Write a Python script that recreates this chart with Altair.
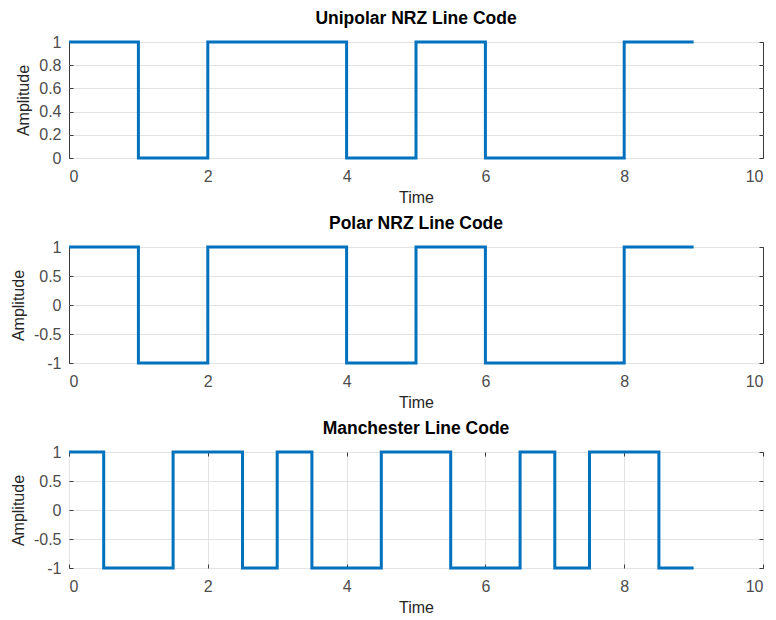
import altair as alt
import pandas as pd

t_nrz = [0, 1, 2, 3, 4, 5, 6, 7, 8, 9]
unipolar = [1, 0, 1, 1, 0, 1, 0, 0, 1, 1]
polar = [1, -1, 1, 1, -1, 1, -1, -1, 1, 1]
t_man = [0, 0.5, 1, 1.5, 2, 2.5, 3, 3.5, 4, 4.5, 5, 5.5, 6, 6.5, 7, 7.5, 8, 8.5, 9]
manchester = [1, -1, -1, 1, 1, -1, 1, -1, -1, 1, 1, -1, -1, 1, -1, 1, 1, -1, -1]

x_ticks = [0, 2, 4, 6, 8, 10]
y_ticks_uni = [0, 0.2, 0.4, 0.6, 0.8, 1]
y_ticks_pol = [-1, -0.5, 0, 0.5, 1]

FONT = "Liberation Sans"
BLUE = "#0072BD"


def panel(t, v, title, ydomain, yticks, xgrid):
    df = pd.DataFrame({"t": t, "v": v})
    xs = alt.Scale(domain=[0, 10], nice=False, zero=False)
    ys = alt.Scale(domain=ydomain, nice=False, zero=False)
    line = alt.Chart(df).mark_line(
        interpolate="step-after", color=BLUE, strokeWidth=3
    ).encode(
        x=alt.X("t:Q", scale=xs, axis=alt.Axis(
            values=x_ticks, title="Time", grid=xgrid, offset=-4, tickSize=4,
            domain=False, labelPadding=10, titlePadding=5,
            labelExpr="datum.value + ''")),
        y=alt.Y("v:Q", scale=ys, axis=alt.Axis(
            values=yticks, title="Amplitude", grid=True, offset=-4, tickSize=4,
            domain=False, labelPadding=8, titlePadding=7,
            labelExpr="datum.value < 0 ? '-' + abs(datum.value) : datum.value + ''")),
    )
    mirror = alt.Chart(df).mark_line(opacity=0).encode(
        x=alt.X("t:Q", scale=xs, axis=alt.Axis(
            orient="top", values=x_ticks, labels=False, title=None, grid=False,
            domain=False, offset=-4, tickSize=4)),
        y=alt.Y("v:Q", scale=ys, axis=alt.Axis(
            orient="right", values=yticks, labels=False, title=None, grid=False,
            domain=False, offset=-4, tickSize=4)),
    )
    return alt.layer(line, mirror).resolve_axis(
        x="independent", y="independent"
    ).properties(
        width=694, height=116,
        title=alt.TitleParams(title, fontSize=17.5, fontWeight="bold", font=FONT,
                              color="#000000", offset=7, anchor="middle"),
    )


chart = alt.vconcat(
    panel(t_nrz, unipolar, "Unipolar NRZ Line Code", [0, 1], y_ticks_uni, False),
    panel(t_nrz, polar, "Polar NRZ Line Code", [-1, 1], y_ticks_pol, False),
    panel(t_man, manchester, "Manchester Line Code", [-1, 1], y_ticks_pol, True),
    spacing=8,
).properties(
    padding={"left": 1, "top": 1, "right": 0, "bottom": 0}
).configure_view(
    stroke="#3a3a3a", strokeWidth=1
).configure_axis(
    labelFont=FONT, labelFontSize=16, labelColor="#4d4d4d",
    titleFont=FONT, titleFontSize=16, titleColor="#262626", titleFontWeight="normal",
    tickColor="#3a3a3a", gridColor="#e3e3e3", gridWidth=1,
)

chart.save("out.html", embed_options={"renderer": "svg", "actions": False})
